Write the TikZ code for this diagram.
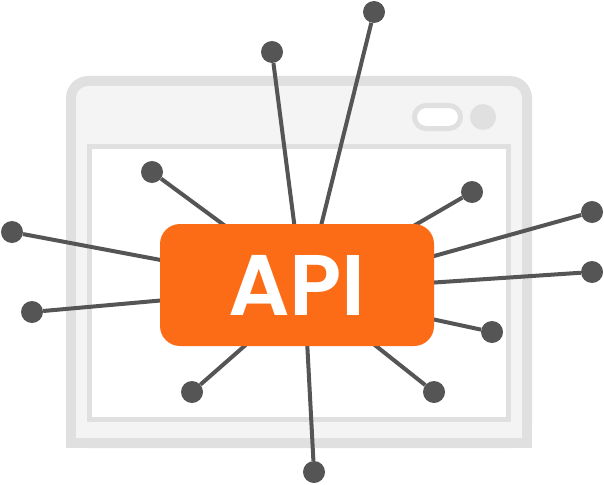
\documentclass[tikz,border=0pt]{standalone}
\usepackage{fontspec}
\usepackage{tikz}
\usetikzlibrary{positioning,shapes}
\newfontfamily\apifont{Poppins SemiBold}
\definecolor{winedge}{HTML}{E0E0E0}
\definecolor{winfill}{HTML}{F4F4F4}
\definecolor{dotgray}{HTML}{555555}
\definecolor{apiorange}{HTML}{FC6C16}
\tikzset {
    style dot/.style={
        fill=dotgray,
        draw=none,
        circle, % Set the shape as a circle
        inner sep=0pt,
        minimum size=22pt,
    },
    style box/.style={
        fill=apiorange,
        draw=none,
        text=white,
        rectangle, % Set the shape as a rectangle
        rounded corners=20pt,
        minimum width=274pt,
        minimum height=122pt,
        align=center,
        font=\apifont\fontsize{86}{86}\selectfont,
    },
    style wire/.style={
        draw=dotgray,
        line width=4pt,
    },
}
\begin{document}
\begin{tikzpicture}[x=1pt, y=-1pt]
\useasboundingbox (0,0) rectangle (604,484);

% window
\fill[winedge, rounded corners=22pt] (66,76) rectangle (532,448);
\fill[winedge] (66,300) rectangle (532,448);
\fill[winfill, rounded corners=12pt] (76,86) rectangle (522,438);
\fill[winfill] (76,300) rectangle (522,438);
\draw[winedge, line width=5pt, fill=white] (89.5,146.5) rectangle (508.5,419.5);
\draw[winedge, line width=5pt, fill=white, rounded corners=11.5pt] (414.5,105.5) rectangle (460.5,128.5);
\fill[winedge] (483,117) circle (13pt);

% dots
\node[style dot] at (374,12) (d1) {};
\node[style dot] at (272,52) (d2) {};
\node[style dot] at (152,172) (d3) {};
\node[style dot] at (12,232) (d4) {};
\node[style dot] at (32,312) (d5) {};
\node[style dot] at (192,392) (d6) {};
\node[style dot] at (314,472) (d7) {};
\node[style dot] at (434,392) (d8) {};
\node[style dot] at (492,332) (d9) {};
\node[style dot] at (592,272) (d10) {};
\node[style dot] at (592,212) (d11) {};
\node[style dot] at (472,192) (d12) {};

% wire ends under the box
\coordinate (e1) at (320,230);
\coordinate (e2) at (295,230);
\coordinate (e3) at (228,228);
\coordinate (e4) at (166,261);
\coordinate (e5) at (166,300);
\coordinate (e6) at (249,342);
\coordinate (e7) at (307,340);
\coordinate (e8) at (371,342);
\coordinate (e9) at (427,318);
\coordinate (e10) at (427,283);
\coordinate (e11) at (427,258);
\coordinate (e12) at (410,228);

\foreach \i in {1,...,12}
    \draw[style wire] (d\i) -- (e\i);

\node[style box] at (297,285) (api) {API};
\end{tikzpicture}
\end{document}
